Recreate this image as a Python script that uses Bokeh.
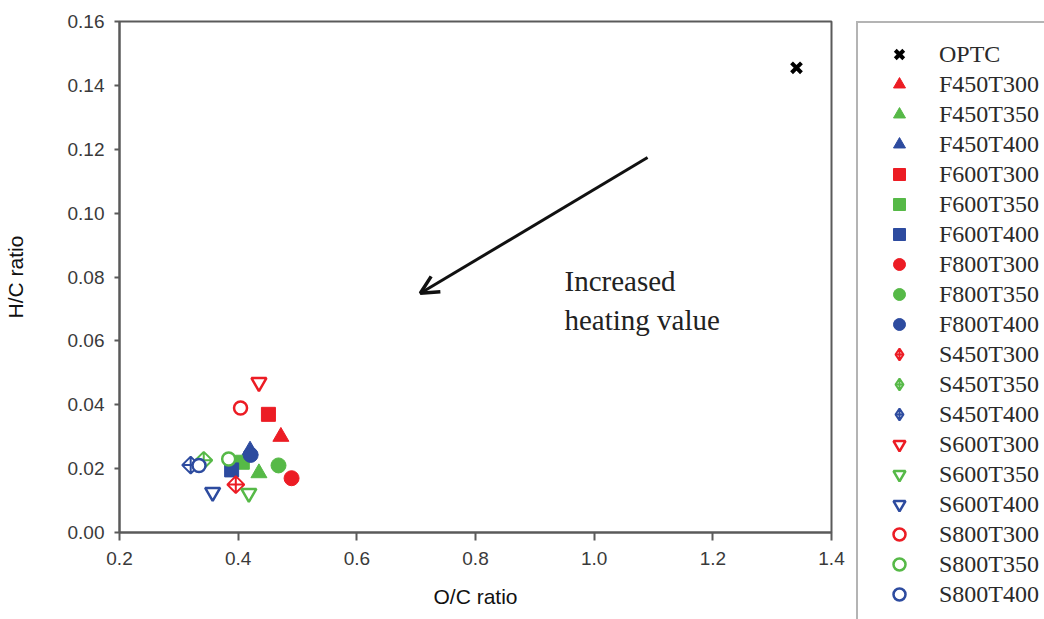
import math
from bokeh.plotting import figure
from bokeh.models import (Range1d, Legend, LegendItem, Arrow, OpenHead, Label,
                          FixedTicker, PrintfTickFormatter)
from bokeh.core.templates import get_env
from bokeh.embed import file_html
from bokeh.resources import INLINE

# ---- data ----
series = ["OPTC",
          "F450T300", "F450T350", "F450T400",
          "F600T300", "F600T350", "F600T400",
          "F800T300", "F800T350", "F800T400",
          "S450T300", "S450T350", "S450T400",
          "S600T300", "S600T350", "S600T400",
          "S800T300", "S800T350", "S800T400"]
oc_ratio = [1.341,
            0.472, 0.435, 0.420,
            0.451, 0.407, 0.389,
            0.490, 0.468, 0.421,
            0.396, 0.342, 0.320,
            0.435, 0.418, 0.357,
            0.404, 0.384, 0.334]
hc_ratio = [0.1455,
            0.0300, 0.0186, 0.0257,
            0.0370, 0.0220, 0.0196,
            0.0170, 0.0210, 0.0243,
            0.0150, 0.0226, 0.0211,
            0.0470, 0.0123, 0.0126,
            0.0390, 0.0230, 0.0210]
x_ticks = [0.2, 0.4, 0.6, 0.8, 1.0, 1.2, 1.4]
y_ticks = [0.00, 0.02, 0.04, 0.06, 0.08, 0.10, 0.12, 0.14, 0.16]

# ---- styles ----
RED, GREEN, BLUE = "#ec1c24", "#56b947", "#2d4b9f"
colors = ["#000000"] + [RED, GREEN, BLUE] * 6
markers = (["x"] + ["triangle"] * 3 + ["square"] * 3 + ["circle"] * 3 +
           ["square_x"] * 3 + ["inverted_triangle"] * 3 + ["circle"] * 3)
filled = [False] + [True] * 9 + [False] * 9
sizes = [14] + [16] * 3 + [14] * 3 + [15] * 3 + [12] * 3 + [15] * 3 + [13] * 3


def style(i, for_legend=False):
    c = colors[i]
    kw = dict(marker=markers[i], size=sizes[i], line_color=c)
    if markers[i] == "x":
        kw.update(line_width=4)
    elif filled[i]:
        kw.update(fill_color=c, line_width=1)
    else:
        kw.update(fill_color="white", line_width=2.5)
    if markers[i] == "square_x":
        if for_legend:
            kw.update(marker="diamond_cross", line_width=2)
        else:
            kw.update(angle=math.pi / 4, line_width=2)
    return kw


p = figure(width=850, height=619, output_backend="svg", toolbar_location=None,
           x_range=Range1d(0.2, 1.4), y_range=Range1d(0.0, 0.16),
           min_border_left=119, min_border_right=19, min_border_top=21,
           min_border_bottom=87)
p.background_fill_color = "white"
p.border_fill_color = "white"
p.xgrid.visible = False
p.ygrid.visible = False
p.outline_line_color = "#5a5a5a"
p.outline_line_width = 2

AX = "#5a5a5a"
for ax in (p.xaxis[0], p.yaxis[0]):
    ax.axis_line_color = AX
    ax.axis_line_width = 2
    ax.major_tick_line_color = AX
    ax.major_tick_line_width = 2
    ax.major_tick_in = 0
    ax.minor_tick_line_color = None
    ax.major_label_text_font = "Liberation Sans"
    ax.major_label_text_font_size = "19px"
    ax.major_label_text_color = "#3a3a3a"
    ax.axis_label_text_font = "Liberation Sans"
    ax.axis_label_text_font_size = "21px"
    ax.axis_label_text_font_style = "normal"
    ax.axis_label_text_color = "#111111"

p.xaxis.ticker = FixedTicker(ticks=x_ticks)
p.yaxis.ticker = FixedTicker(ticks=y_ticks)
p.xaxis.formatter = PrintfTickFormatter(format="%.1f")
p.yaxis.formatter = PrintfTickFormatter(format="%.2f")
p.xaxis.major_tick_out = 8
p.yaxis.major_tick_out = 5
p.xaxis.major_label_standoff = 11
p.yaxis.major_label_standoff = 10
p.xaxis.axis_label = "O/C ratio"
p.yaxis.axis_label = "H/C ratio"
p.xaxis.axis_label_standoff = 17
p.yaxis.axis_label_standoff = 38

for i, name in enumerate(series):
    p.scatter(x=[oc_ratio[i]], y=[hc_ratio[i]], **style(i))

# arrow annotation
p.add_layout(Arrow(x_start=1.090, y_start=0.1174, x_end=0.707, y_end=0.0749,
                   line_color="#111111", line_width=3,
                   end=OpenHead(size=18, line_width=3.5, line_color="#111111")))
for txt, yy in (("Increased", 0.0786), ("heating value", 0.0664)):
    p.add_layout(Label(x=0.950, y=yy, text=txt, text_font="Liberation Serif",
                       text_font_size="29px", text_color="#222222",
                       text_baseline="alphabetic"))

# ---- legend panel (its own canvas, to the right of the plot) ----
q = figure(width=194, height=619, output_backend="svg", toolbar_location=None,
           x_range=Range1d(10, 11), y_range=Range1d(10, 11),
           x_axis_location=None, y_axis_location=None,
           min_border_left=6, min_border_right=0, min_border_top=21,
           min_border_bottom=0)
q.xgrid.visible = False
q.ygrid.visible = False
q.outline_line_color = None
q.background_fill_color = "white"
q.border_fill_color = "white"

items = []
for i, name in enumerate(series):
    # same series data; the legend canvas' ranges keep the points out of view
    r = q.scatter(x=[oc_ratio[i]], y=[hc_ratio[i]], **style(i, for_legend=True))
    items.append(LegendItem(label=name, renderers=[r], index=0))

legend = Legend(items=items, location="top_left",
                label_text_font="Liberation Serif", label_text_font_size="24px",
                label_text_color="#2a2a2a",
                glyph_width=50, glyph_height=30, label_height=30,
                spacing=0, padding=16, label_standoff=15, margin=0,
                border_line_color="#6a6a6a", border_line_width=2.5,
                background_fill_color="white", background_fill_alpha=1)
q.add_layout(legend)

TEMPLATE = get_env().from_string("""<!DOCTYPE html>
<html lang="en">
<head>
<meta charset="utf-8">
<title>{{ title }}</title>
{{ bokeh_css if bokeh_css }}
{{ bokeh_js if bokeh_js }}
<style>html, body { margin: 0; padding: 0; } .rowwrap { display: flex; flex-direction: row; align-items: flex-start; }</style>
</head>
<body>
{% from macros import embed %}
<div class="rowwrap">
{% for doc in docs %}{% for root in doc.roots %}{{ embed(root) }}{% endfor %}{% endfor %}
</div>
{{ plot_script }}
</body>
</html>
""")

open("out.html", "w").write(file_html([p, q], INLINE, template=TEMPLATE))
